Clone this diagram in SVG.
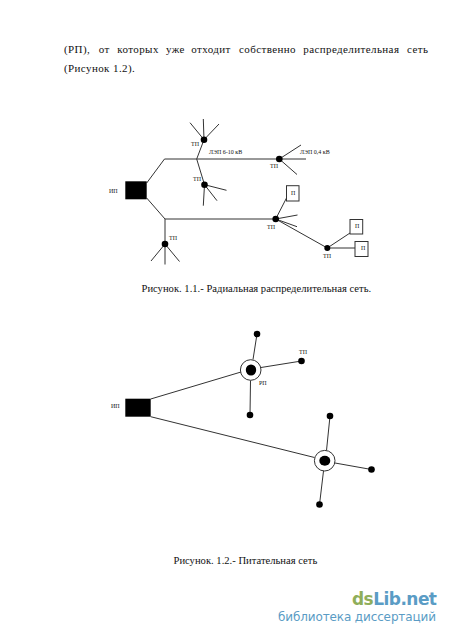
<svg xmlns="http://www.w3.org/2000/svg" width="450" height="636" viewBox="0 0 450 636">
<style>
text{font-family:"Liberation Serif","Times New Roman",serif;fill:#111}
.b{font-size:11px;letter-spacing:.4px}
.c{font-size:10.6px}
.s{font-size:6px}
#connectors line,#connectors polyline{stroke:#333;stroke-width:1;fill:none}
.d{fill:#000}
.r{fill:#fff;stroke:#333;stroke-width:1}
.g{font-family:"DejaVu Sans",sans-serif;font-size:17px;font-weight:bold;fill:#8fae5a}
.h{font-family:"DejaVu Sans",sans-serif;font-size:12px;fill:#5a9cc5}
</style>
<rect width="450" height="636" fill="#fff"/>
<g id="body-text">
<text class="b" y="52.5"><tspan x="64">(РП),</tspan><tspan x="98.7">от</tspan><tspan x="117.3">которых</tspan><tspan x="166">уже</tspan><tspan x="191.3">отходит</tspan><tspan x="239">собственно</tspan><tspan x="303.3">распределительная</tspan><tspan x="407">сеть</tspan></text>
<text class="b" x="64" y="71.5">(Рисунок 1.2).</text>
</g>
<g id="connectors">
<polyline points="146.7,183 164.5,159 279.3,159"/>
<polyline points="146.7,198 165,219 275.7,219"/>
<line x1="196.7" y1="159" x2="204" y2="139.7"/>
<line x1="204" y1="139.7" x2="190" y2="122.7"/>
<line x1="204" y1="139.7" x2="203.3" y2="119"/>
<line x1="204" y1="139.7" x2="219" y2="124"/>
<line x1="196.7" y1="159" x2="204.5" y2="184.7"/>
<line x1="204.5" y1="184.7" x2="226.5" y2="190.3"/>
<line x1="204.5" y1="184.7" x2="203.3" y2="205.7"/>
<line x1="204.5" y1="184.7" x2="217" y2="200.7"/>
<line x1="165" y1="219" x2="165" y2="244"/>
<line x1="165" y1="244" x2="151" y2="261"/>
<line x1="165" y1="244" x2="165" y2="264.5"/>
<line x1="165" y1="244" x2="179.5" y2="261.5"/>
<line x1="279.3" y1="159" x2="301" y2="145"/>
<line x1="279.3" y1="159" x2="306" y2="159"/>
<line x1="279.3" y1="159" x2="297" y2="174.5"/>
<line x1="275.7" y1="219" x2="286.5" y2="198"/>
<line x1="275.7" y1="219" x2="297.5" y2="215"/>
<line x1="275.7" y1="219" x2="297" y2="226.7"/>
<line x1="275.7" y1="219" x2="327.3" y2="248"/>
<line x1="327.3" y1="248" x2="350" y2="233"/>
<line x1="327.3" y1="248" x2="355" y2="248"/>
<line x1="150.7" y1="399" x2="241" y2="372"/>
<line x1="150.7" y1="416.7" x2="314.5" y2="457.5"/>
<line x1="253" y1="359.5" x2="257" y2="334"/>
<line x1="261" y1="367.5" x2="301.5" y2="361"/>
<line x1="250.5" y1="380.5" x2="250" y2="415"/>
<line x1="326.5" y1="450.5" x2="330" y2="416"/>
<line x1="335" y1="463" x2="371.5" y2="469.5"/>
<line x1="323.5" y1="471" x2="319.5" y2="504.5"/>
</g>
<g id="ip1"><rect class="d" x="125.3" y="181.3" width="21.4" height="18"/><text class="s" x="109" y="193">ИП</text></g>
<g id="tp1"><circle class="d" cx="204" cy="139.7" r="3.3"/><text class="s" x="191" y="146">ТП</text></g>
<g id="tp2"><circle class="d" cx="204.5" cy="184.7" r="3.3"/><text class="s" x="193" y="181">ТП</text></g>
<g id="tp3"><circle class="d" cx="165" cy="244" r="3.3"/><text class="s" x="169" y="240">ТП</text></g>
<g id="tp4"><circle class="d" cx="279.3" cy="159" r="3.3"/><text class="s" x="270" y="168">ТП</text></g>
<g id="tp5"><circle class="d" cx="275.7" cy="219" r="3.3"/><text class="s" x="267" y="229">ТП</text></g>
<g id="tp6"><circle class="d" cx="327.3" cy="248" r="3"/><text class="s" x="323" y="258">ТП</text></g>
<g id="p1"><rect class="r" x="286.5" y="185.7" width="12.5" height="15.3"/><text class="s" x="291" y="195">П</text></g>
<g id="p2"><rect class="r" x="350" y="219.5" width="12.7" height="14.5"/><text class="s" x="355" y="228">П</text></g>
<g id="p3"><rect class="r" x="355" y="241.5" width="13" height="15"/><text class="s" x="361" y="250">П</text></g>
<g id="labels1"><text class="s" x="209" y="154">ЛЭП 6-10 кВ</text><text class="s" x="300" y="154">ЛЭП 0,4 кВ</text></g>
<text class="c" x="141.5" y="292">Рисунок. 1.1.- Радиальная распределительная сеть.</text>
<g id="ip2"><rect class="d" x="125.3" y="398.7" width="25.4" height="18"/><text class="s" x="111" y="408">ИП</text></g>
<g id="rp1"><circle cx="250.7" cy="370" r="10.3" fill="#fff" stroke="#333"/><ellipse class="d" cx="251" cy="370" rx="5.2" ry="5.5"/><text class="s" x="259" y="385">РП</text></g>
<g id="rp2"><circle cx="324.7" cy="460.7" r="10.3" fill="#fff" stroke="#333"/><ellipse class="d" cx="324.8" cy="460.7" rx="5.5" ry="5"/></g>
<g id="n1"><circle class="d" cx="257" cy="334" r="3.3"/></g>
<g id="n2"><circle class="d" cx="301.5" cy="361" r="3.3"/><text class="s" x="299" y="354">ТП</text></g>
<g id="n3"><circle class="d" cx="250" cy="415" r="3.3"/></g>
<g id="n4"><circle class="d" cx="330" cy="416" r="3.3"/></g>
<g id="n5"><circle class="d" cx="371.5" cy="469.5" r="3.3"/></g>
<g id="n6"><circle class="d" cx="319.5" cy="504.5" r="3.3"/></g>
<text class="c" x="173.5" y="564">Рисунок. 1.2.- Питательная сеть</text>
<g id="watermark">
<text class="g" x="352" y="604.5" textLength="85">ds<tspan style="fill:#5a9cc5">Lib.net</tspan></text>
<text class="h" x="278" y="620.5" textLength="158">библиотека диссертаций</text>
</g>
</svg>
